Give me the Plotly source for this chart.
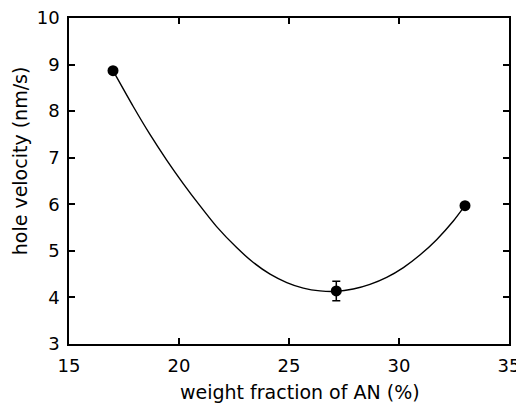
import plotly.graph_objects as go

# measured points
x_pts = [17.0, 27.15, 33.0]
y_pts = [8.87, 4.14, 5.97]
y_err = [0.0, 0.21, 0.0]

# fitted curve
x_curve = [17.0, 17.92, 18.68, 19.44, 20.20, 20.95, 21.71, 22.62, 23.38,
           24.14, 24.90, 25.65, 26.41, 27.14, 27.92, 28.68, 29.44, 30.20, 30.95,
           31.71, 32.47, 33.0]
y_curve = [8.87, 8.10, 7.50, 6.95, 6.44, 5.97, 5.52, 5.07, 4.75,
           4.50, 4.32, 4.20, 4.14, 4.13, 4.18, 4.28, 4.43, 4.64, 4.91,
           5.24, 5.64, 5.97]

x_ticks = [15, 20, 25, 30, 35]
y_ticks = [3, 4, 5, 6, 7, 8, 9, 10]

x_title = "weight fraction of AN (%)"
y_title = "hole velocity (nm/s)"

font = "DejaVu Sans"

fig = go.Figure()
fig.add_trace(go.Scatter(x=x_curve, y=y_curve, mode="lines",
                         line=dict(color="black", width=1.4, shape="spline", smoothing=0.5),
                         showlegend=False, hoverinfo="skip"))
fig.add_trace(go.Scatter(x=x_pts, y=y_pts, mode="markers",
                         marker=dict(color="black", size=11),
                         error_y=dict(type="data", array=y_err, color="black", thickness=1.5, width=4),
                         showlegend=False))

axis_common = dict(showgrid=False, zeroline=False, showline=True, linecolor="black", linewidth=1.5,
                   mirror="allticks", ticks="inside", ticklen=6, tickwidth=1.5, tickcolor="black",
                   ticklabeloverflow="allow", automargin=False,
                   tickfont=dict(family=font, size=18, color="black"))

fig.update_xaxes(range=[15, 35], tickvals=x_ticks, ticktext=[str(v) for v in x_ticks],
                 ticklabelstandoff=5, **axis_common)
fig.update_yaxes(range=[3, 10], tickvals=y_ticks, ticktext=[str(v) for v in y_ticks],
                 ticklabelstandoff=4, **axis_common)

fig.add_annotation(text=x_title, xref="paper", yref="paper", x=0.525, y=-0.146,
                   xanchor="center", yanchor="middle", showarrow=False,
                   font=dict(family=font, size=19, color="black"))
fig.add_annotation(text=y_title, xref="paper", yref="paper", x=-0.111, y=0.561,
                   xanchor="center", yanchor="middle", showarrow=False, textangle=-90,
                   font=dict(family=font, size=19, color="black"))

fig.update_layout(width=516, height=404, margin=dict(l=69, r=7, t=18, b=60, autoexpand=False),
                  plot_bgcolor="white", paper_bgcolor="white")

fig.write_html("out.html")
